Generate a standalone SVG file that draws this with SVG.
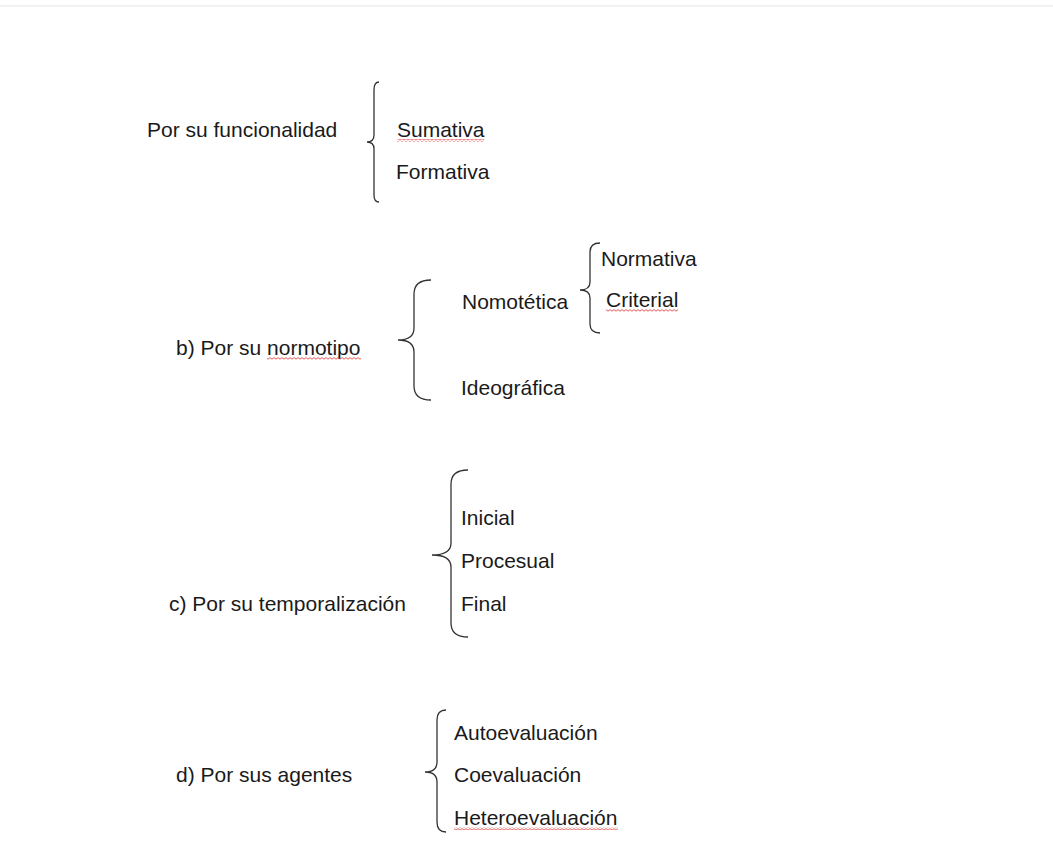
<svg xmlns="http://www.w3.org/2000/svg" width="1053" height="841" viewBox="0 0 1053 841">
<style>
text{font-family:"Liberation Sans",Arial,sans-serif;font-size:21px;fill:#1a1a1a}
.br{fill:none;stroke:#333;stroke-width:1.3}
</style>
<defs>
<pattern id="wavy" width="4" height="3" patternUnits="userSpaceOnUse"><path d="M0 2.2 L2 0.6 L4 2.2" fill="none" stroke="#e03030" stroke-width="0.8"/></pattern>
</defs>
<rect width="1053" height="841" fill="#fff"/>
<line x1="0" y1="6" x2="1053" y2="6" stroke="#e4e4e4" stroke-width="1"/>
<g id="connectors">
<path class="br" d="M379 82 Q374 82 374 90 L374 135 Q374 142 367 142 Q374 142 374 149 L374 195 Q374 202 379 202"/>
<path class="br" d="M431 280 Q414 280 414 294 L414 328 Q414 340 398 340 Q414 340 414 352 L414 386 Q414 400 431 400"/>
<path class="br" d="M600 243 Q590 243 590 252 L590 282 Q590 290 580 290 Q590 290 590 298 L590 324 Q590 333 600 333"/>
<path class="br" d="M468 470 Q451 470 451 484 L451 543 Q451 555 432 555 Q451 555 451 567 L451 623 Q451 637 468 637"/>
<path class="br" d="M446 710 Q437 710 437 720 L437 762 Q437 772 425 772 Q437 772 437 782 L437 822 Q437 832 446 832"/>
</g>
<g id="a"><text x="147" y="137">Por su funcionalidad</text></g>
<g id="sumativa"><text x="397" y="137">Sumativa</text><rect x="397" y="139" width="87" height="3" fill="url(#wavy)"/></g>
<g id="formativa"><text x="396" y="179">Formativa</text></g>
<g id="b"><text x="176" y="355">b) Por su normotipo</text><rect x="267" y="357" width="94" height="3" fill="url(#wavy)"/></g>
<g id="nomotetica"><text x="462" y="309">Nomotética</text></g>
<g id="normativa"><text x="601" y="266">Normativa</text></g>
<g id="criterial"><text x="606" y="307">Criterial</text><rect x="606" y="309" width="72" height="3" fill="url(#wavy)"/></g>
<g id="ideografica"><text x="461" y="395">Ideográfica</text></g>
<g id="c"><text x="169" y="611">c) Por su temporalización</text></g>
<g id="inicial"><text x="461" y="525">Inicial</text></g>
<g id="procesual"><text x="461" y="568">Procesual</text></g>
<g id="final"><text x="461" y="611">Final</text></g>
<g id="d"><text x="176" y="782">d) Por sus agentes</text></g>
<g id="auto"><text x="454" y="740">Autoevaluación</text></g>
<g id="co"><text x="454" y="782">Coevaluación</text></g>
<g id="hetero"><text x="454" y="825">Heteroevaluación</text><rect x="454" y="827" width="164" height="3" fill="url(#wavy)"/></g>
</svg>
